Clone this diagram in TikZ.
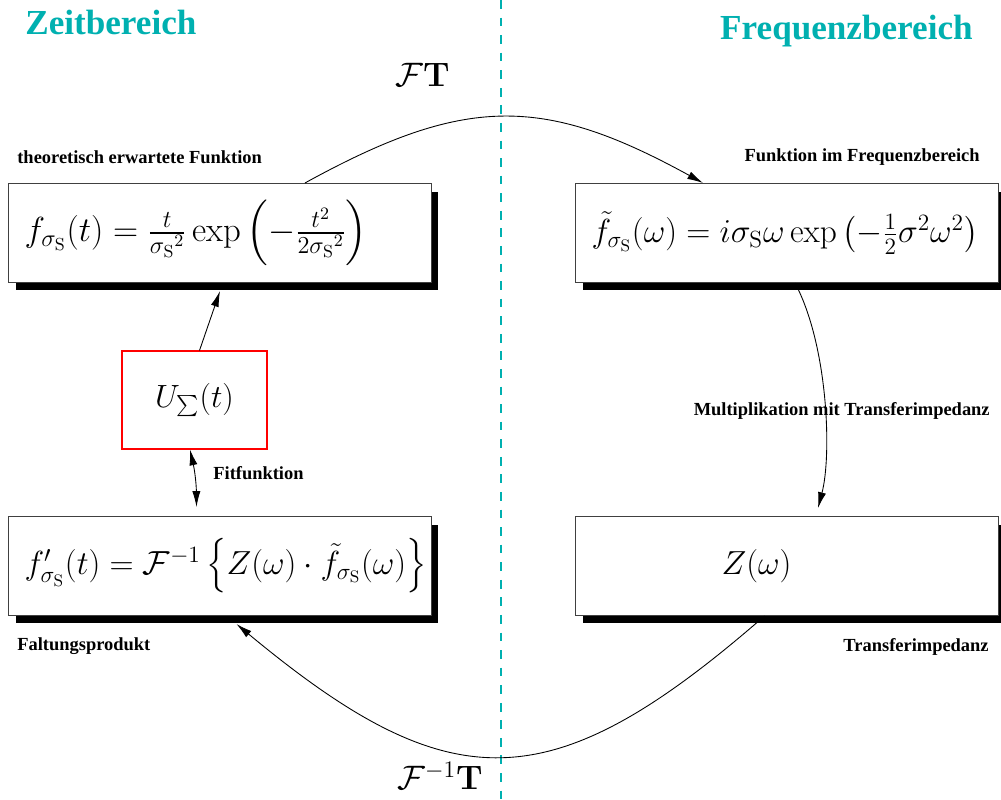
\RequirePackage{fix-cm}
\documentclass[tikz,border=0pt]{standalone}
\usepackage{amsmath}
\usepackage[no-math]{fontspec}
\setmainfont{Liberation Serif}
\usepackage{tikz}
\usetikzlibrary{arrows.meta,shadows}
\definecolor{bereichfarbe}{RGB}{0,176,176}
\tikzset{
  formelbox/.style={draw=black!75, fill=white, line width=0.6pt, minimum width=8.46cm, minimum height=1.98cm,
    inner xsep=0.32cm, text width=7.82cm, align=left, font=\fontsize{19}{22}\selectfont,
    drop shadow={shadow xshift=0.14cm, shadow yshift=-0.16cm, opacity=1, fill=black}},
  fitbox/.style={draw=red, fill=white, line width=0.6pt, minimum width=2.9cm, minimum height=1.96cm, font=\fontsize{18.3}{21}\selectfont},
  beschriftung/.style={inner sep=0pt, font=\bfseries\fontsize{10.5}{12}\selectfont},
  bereichtitel/.style={inner sep=0pt, text=bereichfarbe, font=\bfseries\fontsize{20}{24}\selectfont},
  transformation/.style={inner sep=0pt, font=\fontsize{19.3}{22}\selectfont},
  pfeil/.style={-{Latex[length=9pt,width=4.6pt]}, line width=0.5pt},
  doppelpfeil/.style={{Latex[length=9pt,width=4.6pt]}-{Latex[length=9pt,width=4.6pt]}, line width=0.5pt}
}
\begin{document}
\begin{tikzpicture}[x=0.02cm, y=-0.02cm]
  \useasboundingbox (0,0) rectangle (1001,800);
  % Trennlinie Zeit/Frequenz
  \draw[bereichfarbe, line width=0.6pt, dash pattern=on 5pt off 5pt] (501,0) -- (501,800);
  \node[bereichtitel, anchor=west] (zeitbereich) at (25,22) {Zeitbereich};
  \node[bereichtitel, anchor=east] (frequenzbereich) at (973,31) {Frequenzbereich};

  % Kaesten
  \node[formelbox, font=\fontsize{19.8}{23}\selectfont] (theorie) at (220,233) {\mbox{$f_{\sigma_\mathrm{S}}(t) = \frac{t}{{\sigma_\mathrm{S}}^2}\exp\left(-\frac{t^2}{2{\sigma_\mathrm{S}}^2}\right)$}};
  \node[formelbox] (spektrum) at (787,233) {\mbox{$\tilde{f}_{\sigma_\mathrm{S}}(\omega) = i\sigma_\mathrm{S}\omega\exp\left(-\frac{1}{2}\sigma^2\omega^2\right)$}};
  \node[formelbox] (faltung) at (220,566) {\mbox{$f'_{\sigma_\mathrm{S}}(t) = \mathcal{F}^{-1}\left\{Z(\omega)\cdot\tilde{f}_{\sigma_\mathrm{S}}(\omega)\right\}$}};
  \node[formelbox] (impedanz) at (787,566) {\hspace*{2.6cm}$Z(\omega)$};
  \node[fitbox] (messung) at (194.5,400) {$U_{\sum}(t)$};

  % Beschriftungen
  \node[beschriftung, anchor=west] (lbtheorie) at (17,157) {theoretisch erwartete Funktion};
  \node[beschriftung, anchor=east] (lbspektrum) at (980,157) {Funktion im Frequenzbereich};
  \node[beschriftung, anchor=east] (lbmulti) at (990,411) {Multiplikation mit Transferimpedanz};
  \node[beschriftung, anchor=west] (lbfit) at (213,473) {Fitfunktion};
  \node[beschriftung, anchor=west] (lbfaltung) at (17,646) {Faltungsprodukt};
  \node[beschriftung, anchor=east] (lbimpedanz) at (989,647) {Transferimpedanz};
  \node[transformation, anchor=west] (hin) at (395,75) {$\mathcal{F}\mathbf{T}$};
  \node[transformation, anchor=west] (rueck) at (397,776) {$\mathcal{F}^{-1}\mathbf{T}$};

  % Pfeile
  \draw[pfeil] ([xshift=1.7cm]theorie.north) .. controls (465,95) and (543,95) .. ([xshift=-1.68cm]spektrum.north);
  \draw[pfeil] ([xshift=0.16cm]spektrum.south) .. controls (828,345) and (832,455) .. ([xshift=0.62cm,yshift=0.16cm]impedanz.north);
  \draw[pfeil] ([xshift=-0.45cm]impedanz.south) .. controls (551,802) and (451,802) .. ([xshift=0.33cm,yshift=-0.16cm]faltung.south);
  \draw[pfeil] ([xshift=0.1cm]messung.north) -- ([yshift=-0.16cm]theorie.south);
  \draw[doppelpfeil] ([xshift=-0.09cm]messung.south) to[bend left=6] ([xshift=-0.47cm,yshift=0.18cm]faltung.north);
\end{tikzpicture}
\end{document}
